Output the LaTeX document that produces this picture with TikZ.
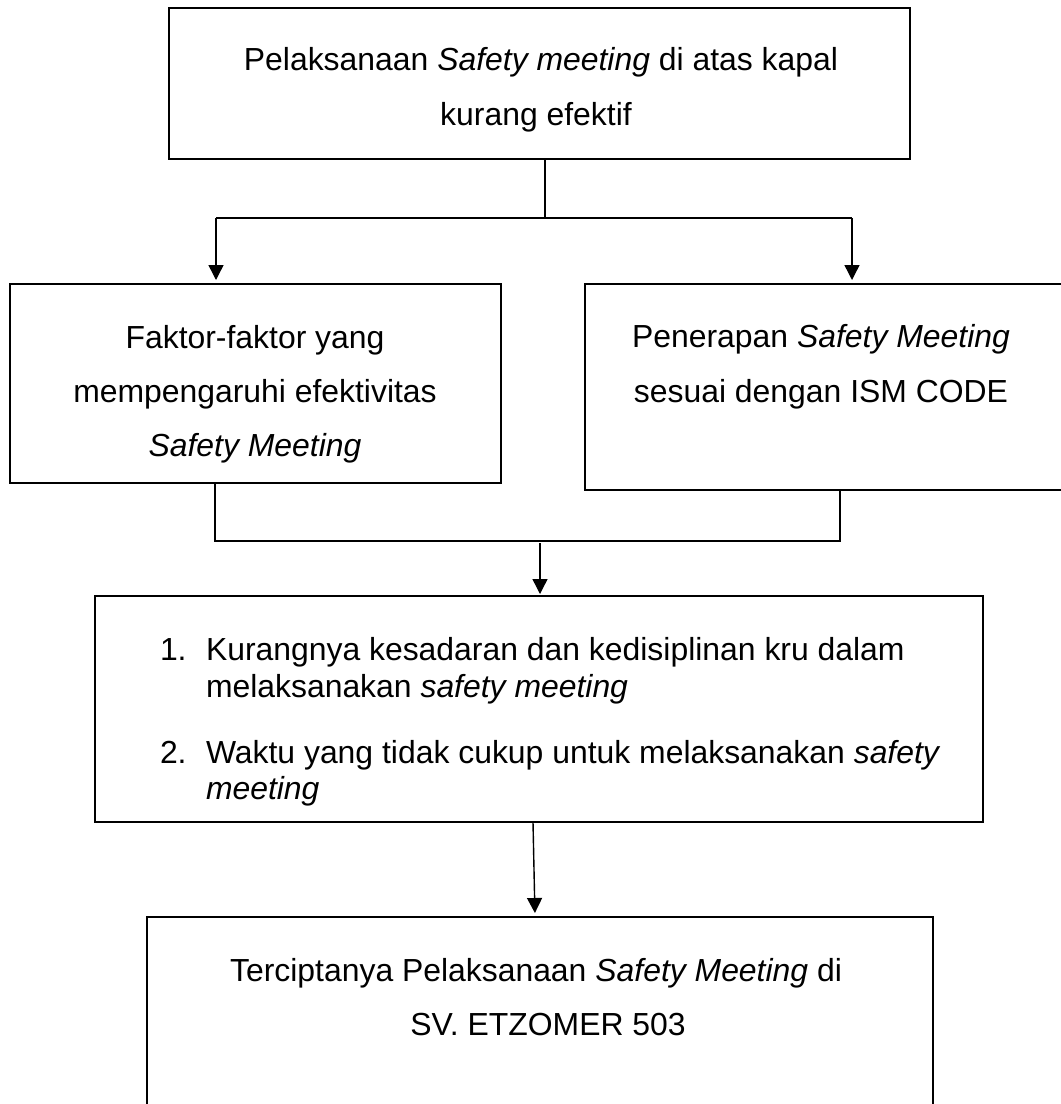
\documentclass[tikz,border=0pt]{standalone}
\usepackage{fontspec}
\setmainfont{Liberation Sans}
\usetikzlibrary{arrows.meta}
\begin{document}
\begin{tikzpicture}[x=1pt,y=-1pt,
  box/.style={draw, line width=2.4pt, rectangle, inner sep=0pt, outer sep=0pt},
  txt/.style={inner sep=0pt, outer sep=0pt, anchor=base, font=\fontsize{31.9}{36}\selectfont},
  ltxt/.style={txt, anchor=base west},
  conn/.style={line width=1.4pt},
  arr/.style={conn, -{Triangle[width=15pt,length=15pt]}}]
\clip (0,0) rectangle (1061,1104);
\fill[white] (0,0) rectangle (1061,1104);

% boxes
\node[box, minimum width=741pt, minimum height=151pt] (top) at (539.5,83.5) {};
\node[box, minimum width=491pt, minimum height=199pt] (left) at (255.5,383.5) {};
\node[box, minimum width=485pt, minimum height=206pt] (right) at (827.5,387) {};
\node[box, minimum width=888pt, minimum height=226pt] (mid) at (539,709) {};
\node[box, minimum width=786pt, minimum height=200pt] (bot) at (540,1017) {};

% texts
\node[txt] (t1) at (541,70) {Pelaksanaan \textit{Safety meeting} di atas kapal};
\node[txt] (t2) at (536,125) {kurang efektif};

\node[txt] (l1) at (255,348) {Faktor-faktor yang};
\node[txt] (l2) at (255,402) {mempengaruhi efektivitas};
\node[txt] (l3) at (255,456) {\textit{Safety Meeting}};

\node[txt] (r1) at (821,347) {Penerapan \textit{Safety Meeting}};
\node[txt] (r2) at (821,402) {sesuai dengan ISM CODE};

\node[ltxt] (n1) at (160,660) {1.};
\node[ltxt] (m1) at (206,660) {Kurangnya kesadaran dan kedisiplinan kru dalam};
\node[ltxt] (m2) at (206,697) {melaksanakan \textit{safety meeting}};
\node[ltxt] (n2) at (160,763) {2.};
\node[ltxt] (m3) at (206,763) {Waktu yang tidak cukup untuk melaksanakan \textit{safety}};
\node[ltxt] (m4) at (206,799) {\textit{meeting}};

\node[txt] (b1) at (536,981) {Terciptanya Pelaksanaan \textit{Safety Meeting} di};
\node[txt] (b2) at (548,1035) {SV. ETZOMER 503};

% connectors
\coordinate (j1) at (545,218);
\coordinate (jl) at (216,218);
\coordinate (jr) at (852,218);
\draw[conn] (top.south -| j1) -- (j1);
\draw[conn] (jl) -- (jr);
\draw[arr, shorten >=4pt] (jl) -- (jl |- left.north);
\draw[arr, shorten >=4pt] (jr) -- (jr |- right.north);

\coordinate (k1) at (215,541);
\coordinate (k2) at (840,541);
\coordinate (k3) at (540,543);
\draw[conn] (left.south -| k1) -- (k1) -- (k2) -- (right.south -| k2);
\draw[arr, shorten >=2pt] (k3) -- (k3 |- mid.north);

\draw[arr, shorten >=4pt] ([xshift=-6pt]mid.south) -- ([xshift=-5pt]bot.north);
\end{tikzpicture}
\end{document}
